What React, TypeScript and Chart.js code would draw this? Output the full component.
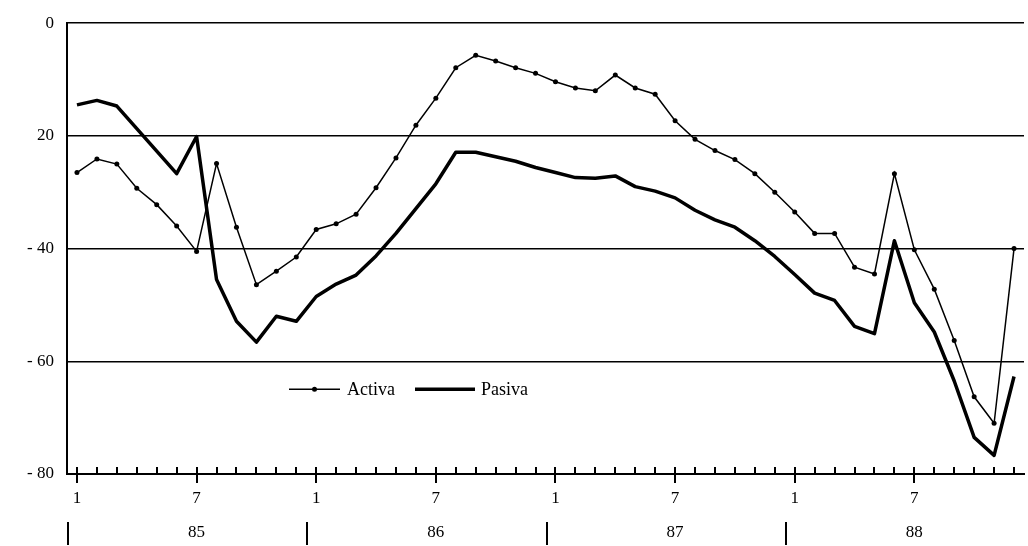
import { useEffect, useRef } from "react";
import { Chart, registerables } from "chart.js";

Chart.register(...registerables);

const years = ["85", "86", "87", "88"];
const monthNumbers = ["1", "2", "3", "4", "5", "6", "7", "8", "9", "10", "11", "12"];
const categories = years.flatMap((y) => monthNumbers.map((m) => `${m}/${y}`));
const xTickMonths = ["1", "7"];
const yTickValues = [0, -20, -40, -60, -80];
const yTickLabels = ["0", "20", "- 40", "- 60", "- 80"];

const activa = [
  -26.5, -24.1, -25.0, -29.3, -32.2, -36.0, -40.5, -24.9, -36.2, -46.4, -44.0, -41.5,
  -36.6, -35.6, -33.9, -29.2, -23.9, -18.1, -13.3, -7.9, -5.7, -6.7, -7.9, -8.9,
  -10.4, -11.5, -12.0, -9.2, -11.5, -12.6, -17.3, -20.6, -22.6, -24.2, -26.7, -30.0,
  -33.5, -37.3, -37.3, -43.3, -44.5, -26.7, -40.2, -47.2, -56.3, -66.3, -71.0, -40.0,
];
const pasiva = [
  -14.5, -13.7, -14.7, -18.7, -22.7, -26.7, -20.1, -45.5, -52.9, -56.6, -52.0, -52.9,
  -48.5, -46.3, -44.7, -41.3, -37.3, -32.9, -28.5, -22.9, -22.9, -23.7, -24.5, -25.6,
  -26.5, -27.4, -27.5, -27.1, -29.0, -29.8, -31.0, -33.2, -34.9, -36.2, -38.6, -41.4,
  -44.6, -47.9, -49.2, -53.8, -55.1, -38.6, -49.6, -54.8, -63.5, -73.5, -76.7, -62.7,
];

const FONT = "'Liberation Serif', 'DejaVu Serif', serif";

const decorPlugin = {
  id: "decor",
  afterDraw(chart: any) {
    const { ctx, chartArea } = chart;
    const x = chart.scales.x;
    const bottom = chartArea.bottom;
    ctx.save();
    ctx.strokeStyle = "#000";
    ctx.fillStyle = "#000";
    ctx.lineWidth = 2;
    // month tick marks
    categories.forEach((_c, i) => {
      const px = Math.round(x.getPixelForValue(i));
      const major = xTickMonths.includes(monthNumbers[i % 12]);
      ctx.beginPath();
      ctx.moveTo(px, bottom - 7);
      ctx.lineTo(px, bottom + (major ? 9 : 0));
      ctx.stroke();
    });
    // year separators
    const step = x.getPixelForValue(1) - x.getPixelForValue(0);
    years.forEach((_y, k) => {
      const px = Math.round(x.getPixelForValue(k * 12) - step / 2) + 1;
      ctx.beginPath();
      ctx.moveTo(px, bottom + 48);
      ctx.lineTo(px, bottom + 71);
      ctx.stroke();
    });
    // legend
    const ly = chartArea.top + 366;
    const items = [
      { x0: 222, x1: 273, tx: 280 },
      { x0: 348, x1: 408, tx: 414 },
    ];
    chart.data.datasets.forEach((ds: any, i: number) => {
      const it = items[i];
      const a = chartArea.left + it.x0;
      const b = chartArea.left + it.x1;
      ctx.lineWidth = ds.borderWidth;
      ctx.strokeStyle = ds.borderColor;
      ctx.beginPath();
      ctx.moveTo(a, ly);
      ctx.lineTo(b, ly);
      ctx.stroke();
      if (ds.pointRadius > 0) {
        ctx.beginPath();
        ctx.arc((a + b) / 2, ly, ds.pointRadius, 0, Math.PI * 2);
        ctx.fill();
      }
      ctx.font = `18px ${FONT}`;
      ctx.textBaseline = "middle";
      ctx.textAlign = "left";
      ctx.fillText(ds.label, chartArea.left + it.tx, ly + 1);
    });
    ctx.restore();
  },
};

export default function App() {
  const ref = useRef<HTMLCanvasElement | null>(null);

  useEffect(() => {
    document.body.style.margin = "0";
    const canvas = ref.current;
    if (!canvas) return;
    const chart = new Chart(canvas, {
      type: "line",
      data: {
        labels: categories,
        datasets: [
          {
            label: "Activa",
            data: activa,
            borderColor: "#000",
            backgroundColor: "#000",
            borderWidth: 1.5,
            pointRadius: 2.5,
            pointBackgroundColor: "#000",
            pointBorderWidth: 0,
            tension: 0,
          },
          {
            label: "Pasiva",
            data: pasiva,
            borderColor: "#000",
            backgroundColor: "#000",
            borderWidth: 3.5,
            pointRadius: 0,
            tension: 0,
            borderJoinStyle: "round",
          },
        ],
      },
      options: {
        responsive: false,
        animation: false,
        layout: { padding: { top: 17, left: 0, right: 1, bottom: 0 } },
        plugins: {
          legend: { display: false },
          tooltip: { enabled: false },
        },
        scales: {
          x: {
            type: "category",
            offset: true,
            grid: { display: false },
            border: { display: true, color: "#000", width: 2 },
            ticks: {
              autoSkip: false,
              maxRotation: 0,
              padding: 6,
              color: "#000",
              font: { family: FONT, size: 17 },
              callback: (_v: any, i: number) => {
                const m = monthNumbers[i % 12];
                return xTickMonths.includes(m) ? m : null;
              },
            },
            afterFit: (axis: any) => {
              axis.height = 36;
            },
          },
          x2: {
            type: "category",
            position: "bottom",
            offset: true,
            grid: { display: false },
            border: { display: false },
            ticks: {
              autoSkip: false,
              maxRotation: 0,
              padding: 4,
              color: "#000",
              font: { family: FONT, size: 17 },
              callback: (_v: any, i: number) =>
                i % 12 === 6 ? years[Math.floor(i / 12)] : null,
            },
            afterFit: (axis: any) => {
              axis.height = 36;
            },
          },
          y: {
            min: -80,
            max: 0,
            afterBuildTicks: (axis: any) => {
              axis.ticks = yTickValues.map((v) => ({ value: v }));
            },
            grid: {
              display: true,
              color: "#000",
              lineWidth: 1.5,
              drawTicks: false,
            },
            border: { display: true, color: "#000", width: 2 },
            ticks: {
              padding: 13,
              color: "#000",
              font: { family: FONT, size: 17 },
              callback: (v: any) => {
                const k = yTickValues.indexOf(Number(v));
                return k >= 0 ? yTickLabels[k] : "";
              },
            },
            afterFit: (axis: any) => {
              axis.width = 67;
            },
          },
        },
      },
      plugins: [decorPlugin],
    } as any);
    return () => chart.destroy();
  }, []);

  return (
    <div style={{ width: 1028, height: 546 }}>
      <canvas ref={ref} width={1028} height={546} />
    </div>
  );
}
